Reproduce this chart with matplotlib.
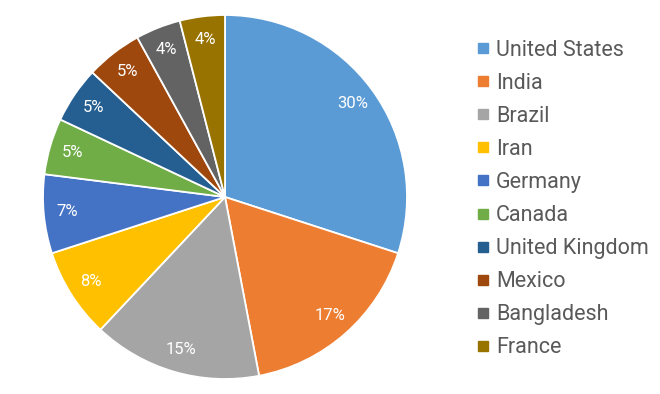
import matplotlib.pyplot as plt
from matplotlib.lines import Line2D

# data
countries = ["United States", "India", "Brazil", "Iran", "Germany", "Canada",
             "United Kingdom", "Mexico", "Bangladesh", "France"]
shares = [30, 17, 15, 8, 7, 5, 5, 5, 4, 4]
colors = ["#5B9BD5", "#ED7D31", "#A5A5A5", "#FFC000", "#4472C4", "#70AD47",
          "#255E91", "#9E480E", "#636363", "#997300"]

plt.rcParams['font.family'] = ['Roboto', 'DejaVu Sans']

W, H = 660, 394
fig = plt.figure(figsize=(W / 100, H / 100), dpi=100)

# pie centre and radius in pixels
cx, cy, r = 225, 197, 182
ax = fig.add_axes([(cx - r) / W, (H - cy - r) / H, 2 * r / W, 2 * r / H])

wedges, _, autotexts = ax.pie(
    shares, colors=colors, startangle=90, counterclock=False,
    autopct=lambda p: f"{p:.0f}%", pctdistance=0.87,
    wedgeprops=dict(edgecolor="white", linewidth=1.3),
    textprops=dict(color="white", fontsize=12),
)
ax.set_xlim(-1, 1)
ax.set_ylim(-1, 1)
ax.set_aspect("equal")

handles = [Line2D([], [], marker="s", linestyle="none", markersize=6.5,
                  markerfacecolor=c, markeredgecolor=c) for c in colors]
fig.legend(handles, countries, loc="upper left",
           bbox_to_anchor=(466 / W, 1 - 29 / H), frameon=False,
           fontsize=15.5, labelcolor="#595959", handlelength=0.6,
           handletextpad=0.3, labelspacing=0.56, borderpad=0)

fig.savefig("out.png", dpi=100, facecolor="white")
